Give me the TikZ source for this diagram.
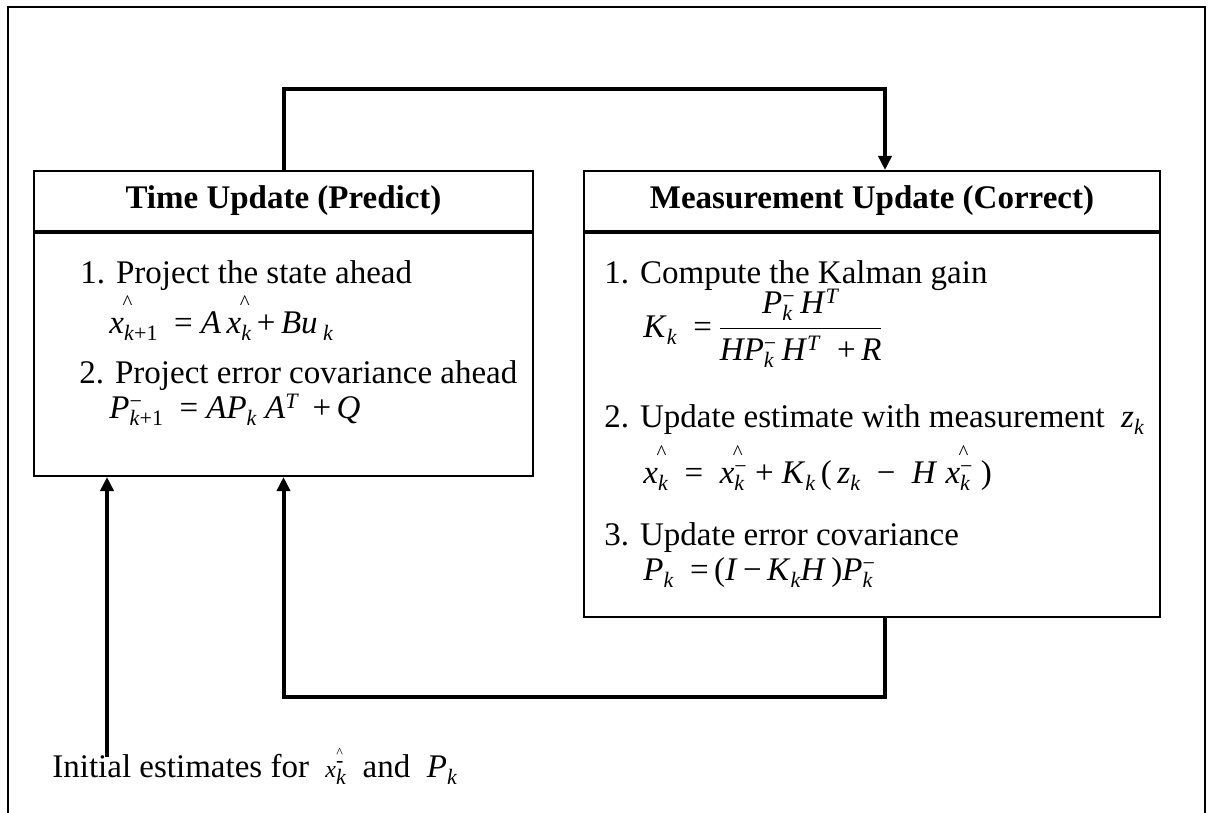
\documentclass[tikz,border=0pt]{standalone}
\usepackage{fontspec}
\setmainfont{Liberation Serif}
\usetikzlibrary{arrows.meta,calc}
\newcommand{\kk}{\textit{k}}
\newcommand{\lo}[1]{\raisebox{-3.5pt}{\fontsize{11}{11}\selectfont #1}}
\newcommand{\hi}[1]{\raisebox{5pt}{\fontsize{11}{11}\selectfont #1}}
\newcommand{\lohi}[2]{\setbox0\hbox{\lo{#1}}\setbox2\hbox{\hi{#2}}\ifdim\wd0>\wd2 \rlap{\box2}\box0\else\rlap{\box0}\box2\fi}
\newcommand{\hx}{\rlap{\hspace{0.4em}\raisebox{12pt}{\fontsize{10.5}{10.5}\selectfont\textasciicircum}}\textit{x}}
\tikzset{
  boxhead/.style={draw, line width=1pt, minimum height=30pt, inner sep=0pt,
    font=\fontsize{16.5}{20}\selectfont\bfseries},
  boxbody/.style={draw, line width=1pt, inner sep=0pt},
  conn/.style={line width=2pt},
  arr/.style={-{Triangle[length=7pt,width=6.5pt]}},
  txt/.style={anchor=base west, inner sep=0pt, font=\fontsize{16.5}{20}\selectfont},
}
\begin{document}
\begin{tikzpicture}[x=0.5pt,y=-0.5pt]
\useasboundingbox (0,0) rectangle (1211,813);
% outer frame
\draw[line width=1pt] (7.5,813) -- (7.5,7.5) -- (1205,7.5) -- (1205,813);
% left box
\node[boxhead, minimum width=249.5pt, anchor=north west] (Lh) at (33,170) {Time Update (Predict)};
\node[boxbody, minimum width=249.5pt, minimum height=121.5pt, anchor=north] (Lb) at (Lh.south) {};
% right box
\node[boxhead, minimum width=288pt, anchor=north west] (Rh) at (583,170) {Measurement Update (Correct)};
\node[boxbody, minimum width=288pt, minimum height=192pt, anchor=north] (Rb) at (Rh.south) {};
% left body text
\node[txt] (l1) at (80,283) {1. Project the state ahead};
\node[txt] (l2) at (109,333) {\hx\lo{\kk+1}\ \ =\ \textit{A}\,\hx\lo{\kk}\,+\,\textit{Bu}\,\lo{\kk}};
\node[txt] (l3) at (79,383) {2. Project error covariance ahead};
\node[txt] (l4) at (109,418) {\textit{P}\lohi{\kk+1}{−}\ \ =\ \textit{AP}\lo{\kk}\ \textit{A}\hi{\textit{T}}\ \,+\,\textit{Q}};
% right body text
\node[txt] (r1) at (604,283) {1. Compute the Kalman gain};
\node[txt] (r2) at (643,337) {\textit{K}\lo{\kk}\ \ =\,$\displaystyle\frac{\hbox{\textit{P}\lohi{\kk}{−}\,\textit{H}\hi{\textit{T}}}}{\hbox{\textit{HP}\lohi{\kk}{−}\,\textit{H}\hi{\textit{T}}\ \ +\,\textit{R}}}$};
\node[txt] (r3) at (604,427) {2. Update estimate with measurement\ \ \textit{z}\lo{\kk}};
\node[txt] (r4) at (643,483) {\hx\lo{\kk}\ \ =\ \ \hx\lohi{\kk}{−}\ +\ \textit{K}\lo{\kk}\,(\,\textit{z}\lo{\kk}\ \ −\ \ \textit{H}\ \hx\lohi{\kk}{−}\ )};
\node[txt] (r5) at (604,545) {3. Update error covariance};
\node[txt] (r6) at (643,580) {\textit{P}\lo{\kk}\ \ =\,(\textit{I}\,−\,\textit{K}\lo{\kk}\textit{H}\,)\textit{P}\lohi{\kk}{−}};
% initial estimates
\node[txt] (init) at (52,777) {Initial estimates for\ \ {\fontsize{12}{12}\selectfont\rlap{\hspace{0.45em}\raisebox{10pt}{\fontsize{7}{7}\selectfont\textasciicircum}}\textit{x}\lohi{\kk}{-}}\ \ and\ \ \textit{P}\lo{\kk}};
\coordinate (istart) at (107,757);
% connectors
\draw[conn,arr] (Lh.north) -- ++(0,-81) -| ([xshift=6.5pt]Rh.north);
\draw[conn,arr] ([xshift=6.5pt]Rb.south) -- ++(0,79) -| (Lb.south);
\draw[conn,arr] (istart) -- (Lb.south -| istart);
\end{tikzpicture}
\end{document}
